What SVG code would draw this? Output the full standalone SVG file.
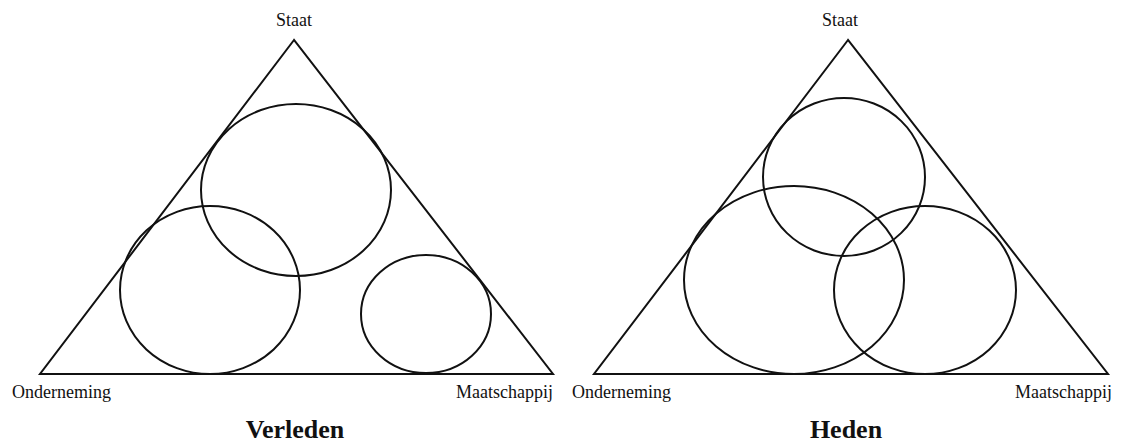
<svg xmlns="http://www.w3.org/2000/svg" width="1121" height="443" viewBox="0 0 1121 443">
<style>
.tri{fill:none;stroke:#111;stroke-width:2;stroke-linejoin:miter}
.c{fill:none;stroke:#111;stroke-width:2}
.lbl{font-family:"Liberation Serif","Times New Roman",serif;font-size:18px;fill:#111}
.ttl{font-family:"Liberation Serif","Times New Roman",serif;font-size:26px;font-weight:bold;fill:#111}
</style>
<rect width="1121" height="443" fill="#fff"/>
<g id="verleden">
<polygon class="tri" points="294,40 40,374 553,374"/>
<ellipse class="c" cx="296" cy="190" rx="95" ry="86"/>
<ellipse class="c" cx="210" cy="290" rx="90" ry="84"/>
<ellipse class="c" cx="426" cy="314" rx="65" ry="59"/>
<text class="lbl" x="294" y="26" text-anchor="middle">Staat</text>
<text class="lbl" x="12" y="398">Onderneming</text>
<text class="lbl" x="553" y="398" text-anchor="end">Maatschappij</text>
<text class="ttl" x="295" y="438" text-anchor="middle">Verleden</text>
</g>
<g id="heden">
<polygon class="tri" points="848,40 594,374 1108,374"/>
<ellipse class="c" cx="844" cy="177" rx="81" ry="79"/>
<ellipse class="c" cx="794" cy="280" rx="110" ry="94"/>
<ellipse class="c" cx="925" cy="290" rx="91" ry="84"/>
<text class="lbl" x="840" y="26" text-anchor="middle">Staat</text>
<text class="lbl" x="572" y="398">Onderneming</text>
<text class="lbl" x="1112" y="398" text-anchor="end">Maatschappij</text>
<text class="ttl" x="846" y="438" text-anchor="middle">Heden</text>
</g>
<g id="connectors"/>
</svg>
